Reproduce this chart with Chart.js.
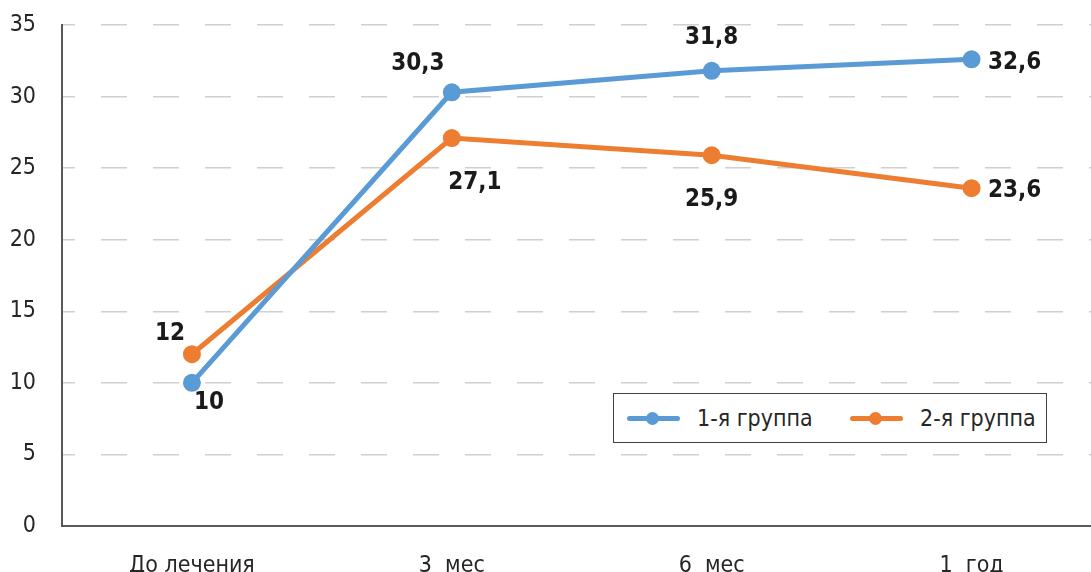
<!DOCTYPE html>
<html lang="ru">
<head>
  <meta charset="UTF-8">
  <title>Группы</title>
  <style>
    html, body { margin: 0; padding: 0; background: #fff; overflow: hidden; }
    .wrap { position: relative; width: 1113px; height: 572px; }
    .legend {
      position: absolute; left: 613px; top: 393px; width: 432px; height: 48px;
      border: 1.5px solid #404040; background: #fff;
      font-family: "Liberation Sans Narrow", "DejaVu Sans Condensed", sans-serif;
      font-size: 23px; color: #262626;
    }
    .legend .item { position: absolute; top: 0; height: 48px; display: flex; align-items: center; }
    .legend .line { width: 53px; height: 5px; border-radius: 3px; position: relative; margin-right: 17px; }
    .legend .line i { position: absolute; left: 19px; top: -4px; width: 13px; height: 13px; border-radius: 50%; background: inherit; }
  </style>
  <script src="https://cdn.jsdelivr.net/npm/chart.js"></script>
</head>
<body>
  <div class="wrap">
    <canvas id="chart" width="1113" height="572"></canvas>
    <div class="legend">
      <div class="item" style="left: 13px;"><span class="line" style="background:#5b9bd5"><i></i></span>1-я группа</div>
      <div class="item" style="left: 236px;"><span class="line" style="background:#ed7d31"><i></i></span>2-я группа</div>
    </div>
  </div>

  <script>
    const labels = ['До лечения', '3  мес', '6  мес', '1  год'];
    const group1 = [10, 30.3, 31.8, 32.6];
    const group2 = [12, 27.1, 25.9, 23.6];
    const group1Labels = ['10', '30,3', '31,8', '32,6'];
    const group2Labels = ['12', '27,1', '25,9', '23,6'];

    const font = '"Liberation Sans Narrow", "DejaVu Sans Condensed", sans-serif';

    // label offsets from the point, in px
    const offsets = {
      0: [[17, 20], [-34, -29], [0, -33], [43, 3]],
      1: [[-22, -20], [23, 45], [0, 45], [43, 3]]
    };
    const textSets = [group1Labels, group2Labels];

    const valueLabels = {
      id: 'valueLabels',
      afterDatasetsDraw(chart) {
        const ctx = chart.ctx;
        ctx.save();
        ctx.font = 'bold 24px ' + font;
        ctx.fillStyle = '#1a1a1a';
        ctx.textAlign = 'center';
        ctx.textBaseline = 'middle';
        chart.data.datasets.forEach((ds, di) => {
          chart.getDatasetMeta(di).data.forEach((pt, i) => {
            const o = offsets[di][i];
            ctx.fillText(textSets[di][i], pt.x + o[0], pt.y + o[1]);
          });
        });
        ctx.restore();
      }
    };

    new Chart(document.getElementById('chart'), {
      type: 'line',
      data: {
        labels: labels,
        datasets: [
          {
            label: '1-я группа',
            data: group1,
            borderColor: '#5b9bd5',
            backgroundColor: '#5b9bd5',
            borderWidth: 5,
            pointRadius: 6.5,
            pointHoverRadius: 6.5,
            tension: 0
          },
          {
            label: '2-я группа',
            data: group2,
            borderColor: '#ed7d31',
            backgroundColor: '#ed7d31',
            borderWidth: 5,
            pointRadius: 6.5,
            pointHoverRadius: 6.5,
            tension: 0
          }
        ]
      },
      options: {
        responsive: false,
        animation: false,
        layout: { padding: { top: 25, left: 0, right: 0, bottom: 0 } },
        plugins: {
          legend: { display: false },
          tooltip: { enabled: false }
        },
        scales: {
          x: {
            offset: true,
            grid: { display: false },
            border: { color: '#595959', width: 2 },
            ticks: { color: '#262626', font: { family: font, size: 23 }, padding: 18 },
            afterFit(scale) { scale.height = 46; }
          },
          y: {
            min: 0,
            max: 35,
            ticks: { stepSize: 5, color: '#262626', font: { family: font, size: 23 }, padding: 26 },
            grid: {
              color: '#d0d0d0',
              lineWidth: 1.5,
              drawTicks: false
            },
            border: { color: '#595959', width: 2, dash: [26, 26], dashOffset: 14 },
            afterFit(scale) {
              scale.width = 62;
              scale.paddingTop = 0;
              scale.paddingBottom = 0;
            }
          }
        }
      },
      plugins: [valueLabels]
    });
  </script>
</body>
</html>
